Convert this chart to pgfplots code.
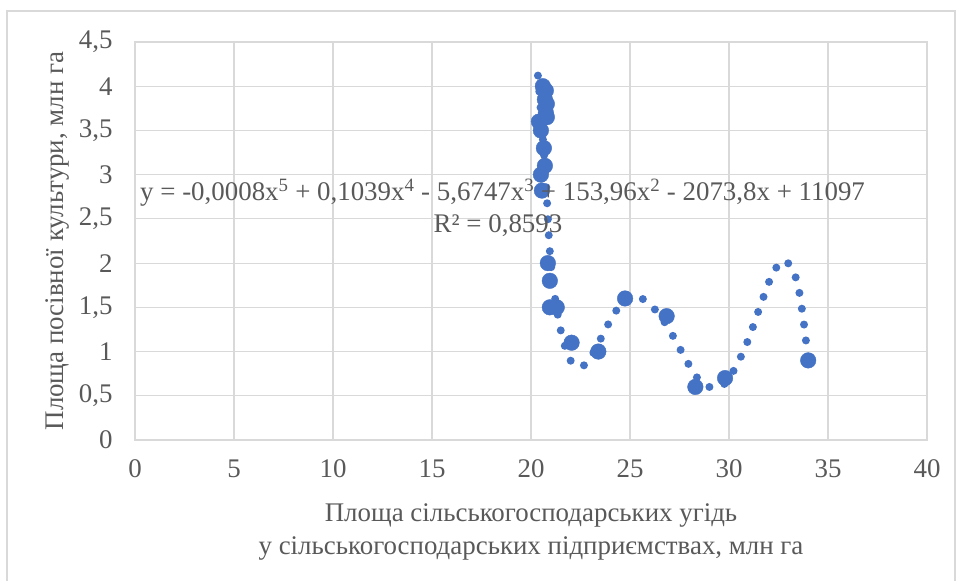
\documentclass[border=0pt]{standalone}
\usepackage{fontspec}
\setmainfont{Liberation Serif}
\usepackage{pgfplots}
\pgfplotsset{compat=1.18}
\definecolor{txt}{HTML}{595959}
\definecolor{gridc}{HTML}{D9D9D9}
\definecolor{framec}{HTML}{D9D9D9}
\definecolor{dotblue}{HTML}{4472C4}
\newcommand{\lbl}{\fontsize{27}{33}\selectfont}

\begin{document}
\begin{tikzpicture}[x=1bp,y=1bp]
\useasboundingbox (0,0) rectangle (956,581);
% chart frame (bottom edge lies outside the picture)
\draw[framec, line width=1.2bp] (7,-10) -- (7,570) -- (955,570) -- (955,-10);
\begin{axis}[
  at={(135bp,141bp)}, anchor=south west,
  width=792bp, height=398bp, scale only axis,
  xmin=0, xmax=40, ymin=0, ymax=4.5,
  xtick={0,5,...,40}, ytick={0,0.5,...,4.5},
  major tick length=0pt,
  grid=major,
  major grid style={draw=gridc, line width=1.2bp},
  axis line style={draw=gridc, line width=1.2bp},
  /pgf/number format/use comma,
  /pgf/number format/assume math mode=true,
  tick label style={font=\lbl, text=txt},
  yticklabel style={xshift=-19bp},
  xticklabel style={yshift=-16bp},
  clip=false,
]
% observations
\addplot[only marks, mark=*, mark size=7.8bp, dotblue, mark options={draw=dotblue, fill=dotblue}] coordinates {
  (20.6,4.00) (20.75,3.95) (20.7,3.85) (20.8,3.80) (20.75,3.70) (20.8,3.65)
  (20.4,3.60) (20.5,3.50) (20.65,3.30) (20.7,3.10) (20.5,3.00) (20.55,2.82)
  (20.85,2.00) (20.95,1.80) (20.95,1.50) (21.3,1.50) (22.05,1.10) (23.4,1.00)
  (24.75,1.60) (26.85,1.40) (28.3,0.60) (29.8,0.70) (34.0,0.90)
};
% polynomial trendline, points
\addplot[dotblue, line width=8bp, line cap=round, dash pattern=on 0bp off 16bp, smooth, no marks] coordinates {
  (20.35,4.12) (20.45,3.85) (20.55,3.55) (20.65,3.25) (20.75,2.95) (20.82,2.65)
  (20.9,2.30) (21.0,2.00) (21.15,1.70) (21.4,1.35) (21.6,1.15) (21.85,0.97)
  (22.2,0.84) (22.8,0.86) (23.3,1.05) (24.0,1.35) (24.5,1.52) (25.1,1.61)
  (25.6,1.60) (26.2,1.49) (26.9,1.28) (27.7,0.96) (28.3,0.73) (28.8,0.62)
  (29.3,0.59) (29.8,0.64) (30.4,0.85) (31.0,1.15) (31.6,1.53) (32.2,1.88)
  (32.75,2.03) (33.2,1.93) (33.5,1.73) (33.75,1.37) (33.95,1.00)
};
\end{axis}
\node[rotate=90, font=\lbl, text=txt, inner sep=0pt] at (57,340) {Площа посівної культури, млн га};
\node[font=\lbl, text=txt, inner sep=0pt] at (531,65) {Площа сільськогосподарських угідь};
\node[font=\lbl, text=txt, inner sep=0pt] at (531,32) {у сільськогосподарських підприємствах, млн га};
\node[anchor=west, font=\lbl, text=txt, inner sep=0pt] at (140,388)
  {y = -0,0008x\textsuperscript{5} + 0,1039x\textsuperscript{4} - 5,6747x\textsuperscript{3} + 153,96x\textsuperscript{2} - 2073,8x + 11097};
\node[font=\lbl, text=txt, inner sep=0pt] at (498,355) {R² = 0,8593};
\end{tikzpicture}
\end{document}
